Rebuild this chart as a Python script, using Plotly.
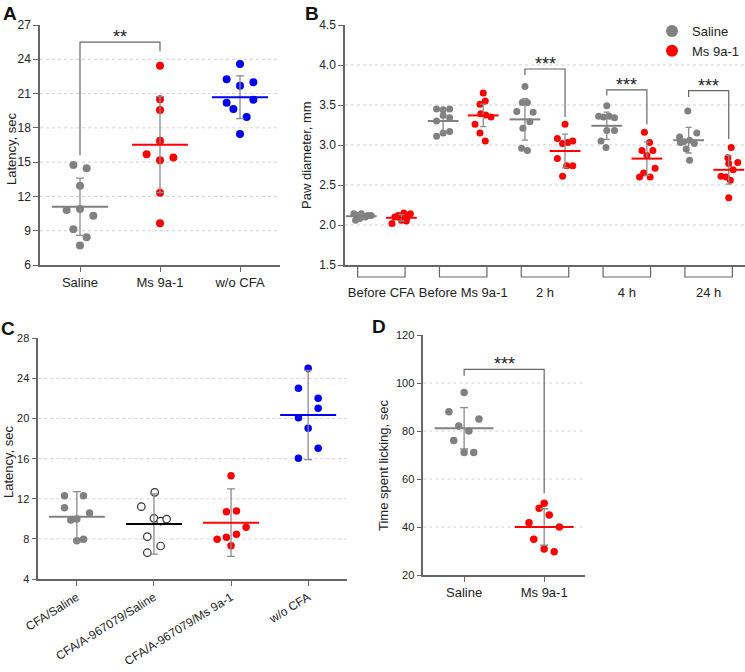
import plotly.graph_objects as go

W, H = 745, 672
GRAY = "#808080"
RED = "#ff0000"
BLUE = "#0000ee"
ERR = "#8a8a8a"
AXC = "#666666"
TXT = "#222222"
FONT = "Arial, Liberation Sans, sans-serif"

# ---------------- Panel A ----------------
A_categories = ["Saline", "Ms 9a-1", "w/o CFA"]
A_saline = [14.75, 14.46, 12.94, 10.81, 10.9, 10.32, 9.12, 8.42, 7.7]
A_saline_dx = [-0.083, 0.083, 0, -0.167, 0, 0.167, -0.083, 0.083, 0]
A_ms = [23.44, 20.5, 19.56, 16.88, 15.69, 15.4, 15.16, 12.33, 9.65]
A_ms_dx = [0, 0, 0, 0, -0.167, 0.167, 0, 0, 0]
A_wo = [23.59, 22.25, 21.99, 21.69, 20.2, 20.46, 19.65, 18.95, 17.46]
A_wo_dx = [0, -0.167, 0.167, 0, -0.167, 0.167, -0.083, 0.083, 0]
A_mean = [11.1, 16.53, 20.67]
A_sd = [2.5, 4.2, 1.87]
A_yticks = [6, 9, 12, 15, 18, 21, 24, 27]
A_grid = [9, 12, 15, 18, 21, 24]

# ---------------- Panel B ----------------
B_groups = ["Before CFA", "Before Ms 9a-1", "2 h", "4 h", "24 h"]
B_saline = [
    [2.14, 2.14, 2.12, 2.11, 2.12, 2.12, 2.06, 2.08, 2.10],
    [3.45, 3.44, 3.45, 3.37, 3.30, 3.34, 3.11, 3.15, 3.17],
    [3.73, 3.53, 3.53, 3.42, 3.41, 3.29, 3.21, 2.96, 2.93],
    [3.49, 3.36, 3.35, 3.36, 3.34, 3.18, 3.18, 3.05, 2.97],
    [3.425, 3.15, 3.10, 3.04, 3.06, 3.02, 3.03, 2.95, 2.81],
]
B_saline_dx = [
    [-0.09, 0, -0.05, 0.03, 0.08, 0.12, -0.07, -0.02, 0.05],
    [-0.08, 0, 0.08, 0, -0.08, 0.08, -0.08, 0, 0.08],
    [0, -0.033, 0.03, -0.10, 0.10, 0.06, -0.025, -0.04, 0.03],
    [0, -0.10, -0.04, 0.03, 0.094, 0, 0.094, -0.07, -0.01],
    [-0.01, 0.10, -0.11, -0.06, 0.012, 0.07, -0.10, -0.03, 0.012],
]
B_saline_mean = [2.11, 3.30, 3.32, 3.24, 3.06]
B_saline_sd = [0.03, 0.14, 0.26, 0.17, 0.16]
B_ms = [
    [2.02, 2.10, 2.12, 2.15, 2.14, 2.06, 2.05, 2.09, 2.09],
    [3.65, 3.55, 3.51, 3.39, 3.375, 3.35, 3.26, 3.15, 3.05],
    [3.26, 3.08, 3.02, 3.03, 3.05, 2.83, 2.74, 2.74, 2.61],
    [3.16, 3.03, 2.93, 2.93, 2.87, 2.71, 2.65, 2.60, 2.60],
    [2.97, 2.84, 2.78, 2.77, 2.69, 2.61, 2.60, 2.56, 2.34],
]
B_ms_dx = [
    [-0.115, -0.08, -0.04, 0.03, 0.11, 0, 0.06, -0.02, 0.065],
    [0, 0.025, -0.04, -0.03, 0.03, 0.095, -0.10, -0.04, 0.025],
    [0, -0.094, -0.03, 0.033, 0.094, -0.094, 0.02, 0.094, -0.03],
    [-0.03, 0.033, -0.06, 0.073, 0, 0.10, -0.04, -0.09, 0.04],
    [0.03, -0.01, 0.11, 0, 0.053, -0.094, -0.03, 0.02, 0],
]
B_ms_mean = [2.09, 3.37, 2.925, 2.83, 2.69]
B_ms_sd = [0.04, 0.14, 0.21, 0.21, 0.18]
B_yticks = [1.5, 2.0, 2.5, 3.0, 3.5, 4.0, 4.5]
B_grid = [2.0, 2.5, 3.0, 3.5, 4.0]
B_sig_groups = [2, 3, 4]
B_sig_top = [3.95, 3.69, 3.68]
B_sig_left = [3.875, 3.62, 3.60]
B_sig_right = [3.35, 3.26, 3.075]

# ---------------- Panel C ----------------
C_categories = ["CFA/Saline", "CFA/A-967079/Saline", "CFA/A-967079/Ms 9a-1", "w/o CFA"]
C_vals = [
    [12.31, 12.31, 11.11, 10.58, 9.88, 9.98, 7.82, 7.96],
    [12.64, 11.21, 10.05, 9.78, 9.98, 8.22, 7.29, 6.62],
    [14.3, 10.71, 10.78, 9.16, 8.46, 8.16, 7.96, 7.32],
    [25.01, 23.01, 22.02, 21.02, 20.08, 19.03, 17.03, 16.04],
]
C_dx = [
    [-0.16, 0.086, -0.16, 0.165, -0.078, 0, 0, 0.086],
    [0.01, -0.164, 0, 0.087, 0.165, -0.086, 0.087, -0.086],
    [0, -0.06, 0.07, 0.195, 0.07, -0.06, -0.18, 0],
    [0, -0.126, 0.13, 0.13, -0.126, 0, 0.13, -0.126],
]
C_mean = [10.21, 9.49, 9.62, 20.35]
C_sd = [2.5, 3.0, 3.37, 4.45]
C_yticks = [4, 8, 12, 16, 20, 24, 28]
C_grid = [8, 12, 16, 20, 24]

# ---------------- Panel D ----------------
D_categories = ["Saline", "Ms 9a-1"]
D_saline = [96, 88, 85, 82.1, 80, 76, 71, 71]
D_saline_dx = [0, -0.19, 0.185, -0.067, 0.059, -0.13, 0, 0.12]
D_ms = [49.9, 47.8, 45, 41.8, 40, 34.9, 30.8, 29.7]
D_ms_dx = [0, -0.063, 0.063, -0.19, 0.19, -0.13, 0, 0.125]
D_mean = [81.1, 40.0]
D_sd = [8.6, 7.6]
D_yticks = [20, 40, 60, 80, 100, 120]
D_grid = [40, 60, 80, 100]

fig = go.Figure()


def add_points(xc, vals, dx, color, xa, ya, size, open_marker=False):
    marker = dict(color=color, size=size, line=dict(width=0))
    if open_marker:
        marker = dict(color="white", size=size, line=dict(color="#333333", width=1.2))
    fig.add_trace(go.Scatter(
        x=[xc + d for d in dx], y=vals, mode="markers", marker=marker,
        xaxis=xa, yaxis=ya, showlegend=False, hoverinfo="skip"))


def add_mean(xc, mean, sd, color, xa, ya, length, cap):
    fig.add_trace(go.Scatter(
        x=[xc], y=[mean], mode="markers",
        marker=dict(symbol="line-ew", size=length, color=color,
                    line=dict(color=color, width=2)),
        error_y=dict(type="data", array=[sd], color=ERR, thickness=1.3, width=cap),
        xaxis=xa, yaxis=ya, showlegend=False, hoverinfo="skip"))


# Panel A traces
A_sets = [(A_saline, A_saline_dx, GRAY), (A_ms, A_ms_dx, RED), (A_wo, A_wo_dx, BLUE)]
for i, (vals, dx, col) in enumerate(A_sets):
    add_points(i, vals, dx, col, "x", "y", 8)
    add_mean(i, A_mean[i], A_sd[i], col, "x", "y", 40, 4)

# Panel B traces
B_off = 0.245
for g in range(len(B_groups)):
    add_points(g - B_off, B_saline[g], B_saline_dx[g], GRAY, "x2", "y2", 7)
    add_points(g + B_off, B_ms[g], B_ms_dx[g], RED, "x2", "y2", 7)
    add_mean(g - B_off, B_saline_mean[g], B_saline_sd[g], GRAY, "x2", "y2", 22, 3)
    add_mean(g + B_off, B_ms_mean[g], B_ms_sd[g], RED, "x2", "y2", 22, 3)

# legend entries for B
fig.add_trace(go.Scatter(x=[None], y=[None], mode="markers", name="Saline",
                         marker=dict(color=GRAY, size=12), xaxis="x2", yaxis="y2"))
fig.add_trace(go.Scatter(x=[None], y=[None], mode="markers", name="Ms 9a-1",
                         marker=dict(color=RED, size=12), xaxis="x2", yaxis="y2"))

# Panel C traces
C_colors = [GRAY, "#333333", RED, BLUE]
C_mean_colors = [GRAY, "#000000", RED, BLUE]
for i in range(4):
    add_points(i, C_vals[i], C_dx[i], C_colors[i], "x3", "y3", 7.5, open_marker=(i == 1))
    add_mean(i, C_mean[i], C_sd[i], C_mean_colors[i], "x3", "y3", 40, 4)

# Panel D traces
D_sets = [(D_saline, D_saline_dx, GRAY), (D_ms, D_ms_dx, RED)]
for i, (vals, dx, col) in enumerate(D_sets):
    add_points(i, vals, dx, col, "x4", "y4", 7.5)
    add_mean(i, D_mean[i], D_sd[i], col, "x4", "y4", 42, 4)


def px_x(p):
    return p / W


def px_y(p):
    return 1 - p / H


shapes = []
annotations = []


def grid(vals, xref, yref):
    for v in vals:
        shapes.append(dict(type="line", xref=xref + " domain", yref=yref, x0=0, x1=1,
                           y0=v, y1=v, layer="below",
                           line=dict(color="#d2d2d2", width=1, dash="dot")))


grid(A_grid, "x", "y")
grid(B_grid, "x2", "y2")
grid(C_grid, "x3", "y3")
grid(D_grid, "x4", "y4")


def sig(x0, x1, top, yl, yr, label, xref, yref):
    shapes.append(dict(type="path", xref=xref, yref=yref,
                       path=f"M {x0},{yl} L {x0},{top} L {x1},{top} L {x1},{yr}",
                       line=dict(color="#666666", width=1.2)))
    annotations.append(dict(x=(x0 + x1) / 2, y=top, xref=xref, yref=yref, text=label,
                            showarrow=False, yanchor="bottom", yshift=-7,
                            font=dict(size=18, color=TXT, family=FONT)))


sig(0, 1, 25.5, 15.6, 24.7, "**", "x", "y")
for k, g in enumerate(B_sig_groups):
    sig(g - B_off, g + B_off, B_sig_top[k], B_sig_left[k], B_sig_right[k], "***", "x2", "y2")
sig(0, 1, 105.7, 103, 54, "***", "x4", "y4")

# brackets under B x axis
for g in range(len(B_groups)):
    x0, x1 = g - 0.29, g + 0.29
    shapes.append(dict(type="path", xref="x2", yref="paper",
                       path=f"M {x0},{px_y(267)} L {x0},{px_y(277)} L {x1},{px_y(277)} L {x1},{px_y(267)}",
                       line=dict(color="#666666", width=1.2)))

# axis titles
for (x, y, t) in [(11, 149, "Latency, sec"), (307, 155, "Paw diameter, mm"),
                  (8, 462, "Latency, sec"), (383, 465, "Time spent licking, sec")]:
    annotations.append(dict(x=px_x(x), y=px_y(y), xref="paper", yref="paper", text=t,
                            textangle=-90, showarrow=False, xanchor="center", yanchor="middle",
                            font=dict(size=13, color=TXT, family=FONT)))

# panel letters
for (x, y, t) in [(10, 13, "A"), (312, 13, "B"), (8, 328, "C"), (379, 327, "D")]:
    annotations.append(dict(x=px_x(x), y=px_y(y), xref="paper", yref="paper", text=f"<b>{t}</b>",
                            showarrow=False, xanchor="center", yanchor="middle",
                            font=dict(size=19, color="#111111", family=FONT)))

common_ax = dict(showline=True, linecolor=AXC, linewidth=1.5, showgrid=False, zeroline=False,
                 ticks="outside", ticklen=5, tickcolor=AXC, tickwidth=1.2, automargin=False,
                 tickfont=dict(size=12, color=TXT, family=FONT))

fig.update_layout(
    width=W, height=H, margin=dict(l=0, r=0, t=0, b=0, autoexpand=False),
    paper_bgcolor="white", plot_bgcolor="white",
    font=dict(family=FONT, color=TXT),
    showlegend=True,
    legend=dict(x=px_x(652), y=px_y(16), xanchor="left", yanchor="top",
                bgcolor="rgba(0,0,0,0)", font=dict(size=13, color=TXT, family=FONT),
                tracegroupgap=0, itemsizing="trace"),
    xaxis=dict(common_ax, domain=[px_x(40), px_x(280)], anchor="y", range=[-0.5, 2.5],
               tickmode="array", tickvals=[0, 1, 2], ticktext=A_categories,
               tickfont=dict(size=13, color=TXT, family=FONT)),
    yaxis=dict(common_ax, domain=[px_y(265), px_y(25)], anchor="x", range=[6, 27],
               tickmode="array", tickvals=A_yticks),
    xaxis2=dict(common_ax, domain=[px_x(345), 1.0], anchor="y2", range=[-0.444, 4.444],
                tickmode="array", tickvals=list(range(len(B_groups))), ticktext=B_groups,
                ticklen=15, tickcolor="rgba(0,0,0,0)", tickangle=0,
                tickfont=dict(size=13, color=TXT, family=FONT)),
    yaxis2=dict(common_ax, domain=[px_y(265), px_y(25)], anchor="x2", range=[1.5, 4.5],
                tickmode="array", tickvals=B_yticks, tickformat=".1f"),
    xaxis3=dict(common_ax, domain=[px_x(38.3), px_x(346.7)], anchor="y3", range=[-0.5, 3.5],
                tickmode="array", tickvals=[0, 1, 2, 3], ticktext=C_categories, tickangle=-32,
                tickfont=dict(size=12, color=TXT, family=FONT)),
    yaxis3=dict(common_ax, domain=[px_y(579), px_y(338.3)], anchor="x3", range=[4, 28],
                tickmode="array", tickvals=C_yticks, tickfont=dict(size=11, color=TXT, family=FONT)),
    xaxis4=dict(common_ax, domain=[px_x(423.3), px_x(585)], anchor="y4", range=[-0.51, 1.51],
                tickmode="array", tickvals=[0, 1], ticktext=D_categories,
                tickfont=dict(size=13, color=TXT, family=FONT)),
    yaxis4=dict(common_ax, domain=[px_y(575), px_y(335)], anchor="x4", range=[20, 120],
                tickmode="array", tickvals=D_yticks, tickfont=dict(size=11, color=TXT, family=FONT)),
    shapes=shapes,
    annotations=annotations,
)

fig.write_html("out.html", config={"displayModeBar": False},
               post_script="document.body.style.margin='0px';document.body.style.overflow='hidden';")
